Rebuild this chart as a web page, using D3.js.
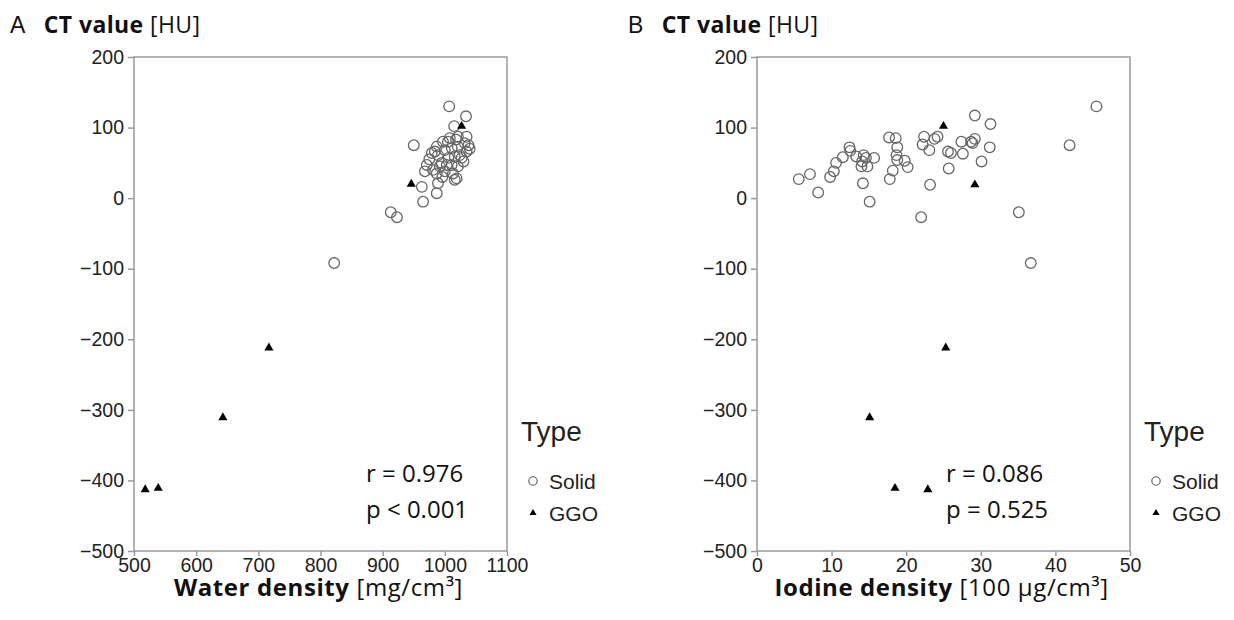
<!DOCTYPE html>
<html lang="en">
<head>
    <meta charset="UTF-8">
    <title>CT value vs water / iodine density</title>
    <script src="https://cdn.jsdelivr.net/npm/d3@7"></script>
    <style>
        body { margin: 0; background: #fff; }
        .ttl { font-family: "Open Sans", Lato, sans-serif; fill: #111; }
        .leg { font-family: "Liberation Sans", Arial, sans-serif; fill: #222; }
    </style>
</head>
<body>
    <svg id="chart" width="1234" height="620"></svg>
    <script>
        // CT value ticks (shared by both panels)
        const ctTicks = [-500, -400, -300, -200, -100, 0, 100, 200]
        const waterTicks = [500, 600, 700, 800, 900, 1000, 1100]
        const iodineTicks = [0, 10, 20, 30, 40, 50]

        // panel A: water density [mg/cm3] vs CT value [HU]
        const waterSolid = [1007, 1034, 1015, 950, 822, 913, 923, 987, 997, 1008, 1021, 1035, 1038, 1035, 979, 989,
            1000, 1011, 1021, 1006, 1016, 1027, 995, 1011, 1021, 971, 968, 981, 987, 1000, 1013, 1016, 989, 963, 987,
            965, 1032, 1024, 1019, 1003, 992, 984, 1030, 1005, 1018, 975, 1040, 996]
        const ctSolidA = [130, 116, 102, 75, -92, -20, -27, 73, 80, 85, 87, 87, 75, 66, 64, 61,
            68, 71, 73, 57, 59, 57, 50, 47, 45, 47, 38, 40, 35, 38, 35, 26, 21, 16, 7,
            -5, 78, 61, 28, 47, 45, 66, 52, 80, 83, 55, 70, 30]
        const waterGGO = [518, 539, 643, 717, 946, 1027]
        const ctGGOA = [-413, -411, -311, -212, 20, 102]

        // panel B: iodine density [100 ug/cm3] vs CT value [HU]
        const iodineSolid = [5.6, 7.1, 8.2, 9.8, 10.3, 10.6, 11.5, 12.4, 12.5, 13.3, 14.3, 14.1, 14.0, 14.8, 14.6, 15.7,
            14.2, 15.1, 17.7, 18.6, 18.8, 18.7, 18.8, 19.8, 20.2, 18.2, 17.8, 22.0, 22.4, 22.2, 23.1, 23.8, 24.2,
            23.2, 25.6, 26.0, 25.7, 27.4, 27.6, 28.7, 29.2, 28.9, 29.2, 31.3, 31.2, 30.1, 41.9, 35.1, 36.7, 45.5]
        const ctSolidB = [27, 34, 8, 30, 38, 50, 58, 72, 67, 59, 61, 52, 45, 45, 57, 57,
            21, -5, 86, 85, 72, 61, 54, 53, 44, 39, 27, -27, 87, 76, 68, 84, 87,
            19, 66, 64, 42, 80, 63, 80, 84, 78, 117, 105, 72, 52, 75, -20, -92, 130]
        const iodineGGO = [25.0, 29.2, 25.3, 15.1, 18.5, 22.9]
        const ctGGOB = [102, 19, -212, -311, -411, -413]

        const legendTypes = ["Solid", "GGO"]

        const svg = d3.select("#chart")
        const plotTop = 57, plotBottom = 551

        const y = d3.scaleLinear().domain([-500, 200]).range([plotBottom, plotTop])

        function drawPanel(p) {
            const x = d3.scaleLinear().domain(p.xDomain).range([p.left, p.right])
            const g = svg.append("g")

            // frame
            g.append("rect")
                .attr("x", p.left).attr("y", plotTop)
                .attr("width", p.right - p.left).attr("height", plotBottom - plotTop)
                .attr("fill", "none").attr("stroke", "#9a9a9a").attr("stroke-width", 1.5)

            const yAxis = g.append("g").attr("transform", `translate(${p.left},0)`)
                .call(d3.axisLeft(y).tickValues(ctTicks).tickSize(6).tickPadding(4)
                    .tickFormat(d => d < 0 ? "\u2212" + Math.abs(d) : d))
            const xAxis = g.append("g").attr("transform", `translate(0,${plotBottom})`)
                .call(d3.axisBottom(x).tickValues(p.xTicks).tickSize(5).tickPadding(2)
                    .tickFormat(d3.format("d")))
            for (const a of [yAxis, xAxis]) {
                a.attr("font-family", "'Liberation Sans', Arial, sans-serif").attr("font-size", 19.5)
                a.select(".domain").remove()
                a.selectAll("line").attr("stroke", "#9a9a9a").attr("stroke-width", 1.5)
                a.selectAll("text").attr("fill", "#222")
            }

            // solid = open circles
            g.append("g").selectAll("circle")
                .data(d3.zip(p.solidX, p.solidY))
                .join("circle")
                .attr("cx", d => x(d[0])).attr("cy", d => y(d[1]))
                .attr("r", 5.3)
                .attr("fill", "none").attr("stroke", "#666").attr("stroke-width", 1.3)

            // GGO = filled triangles
            const tri = d3.symbol().type(d3.symbolTriangle).size(36)
            g.append("g").selectAll("path")
                .data(d3.zip(p.ggoX, p.ggoY))
                .join("path")
                .attr("transform", d => `translate(${x(d[0])},${y(d[1])})`)
                .attr("d", tri).attr("fill", "#000")

            // panel letter + y title
            const t = g.append("text").attr("class", "ttl").attr("x", p.letterX).attr("y", 33)
                .style("font-size", "23px").style("letter-spacing", "0.4px")
            t.append("tspan").text(p.letter).style("font-family", "'Liberation Sans', Arial, sans-serif")
            t.append("tspan").attr("dx", 18).style("font-weight", "bold").text("CT value")
            t.append("tspan").text(" [HU]")

            // x title
            const xt = g.append("text").attr("class", "ttl")
                .attr("x", (p.left + p.right) / 2 - 2).attr("y", 596)
                .attr("text-anchor", "middle").style("font-size", "24px").style("letter-spacing", "0.6px")
            xt.append("tspan").style("font-weight", "bold").text(p.xTitle)
            xt.append("tspan").text(p.xUnit)

            // stats
            g.append("text").attr("class", "ttl").attr("x", p.statX).attr("y", 482)
                .style("font-size", "24px").text(p.r)
            g.append("text").attr("class", "ttl").attr("x", p.statX).attr("y", 518)
                .style("font-size", "24px").text(p.p)

            // legend
            const lg = g.append("g").attr("transform", `translate(${p.right + 14},0)`)
            lg.append("text").attr("class", "leg").attr("x", 0).attr("y", 441)
                .style("font-size", "28px").text("Type")
            legendTypes.forEach((name, i) => {
                const cy = 481 + i * 32
                if (name === "Solid") {
                    lg.append("circle").attr("cx", 12).attr("cy", cy).attr("r", 4.2)
                        .attr("fill", "none").attr("stroke", "#555").attr("stroke-width", 1.1)
                } else {
                    lg.append("path").attr("transform", `translate(12,${cy})`)
                        .attr("d", d3.symbol().type(d3.symbolTriangle).size(22)).attr("fill", "#000")
                }
                lg.append("text").attr("class", "leg").attr("x", 28).attr("y", cy + 8)
                    .style("font-size", "21px").text(name)
            })
        }

        drawPanel({
            left: 134, right: 507, xDomain: [500, 1100], xTicks: waterTicks,
            solidX: waterSolid, solidY: ctSolidA, ggoX: waterGGO, ggoY: ctGGOA,
            letter: "A", letterX: 10, xTitle: "Water density", xUnit: " [mg/cm\u00b3]",
            statX: 366, r: "r = 0.976", p: "p < 0.001"
        })
        drawPanel({
            left: 757, right: 1130, xDomain: [0, 50], xTicks: iodineTicks,
            solidX: iodineSolid, solidY: ctSolidB, ggoX: iodineGGO, ggoY: ctGGOB,
            letter: "B", letterX: 628, xTitle: "Iodine density", xUnit: " [100 \u03bcg/cm\u00b3]",
            statX: 946, r: "r = 0.086", p: "p = 0.525"
        })
    </script>
</body>
</html>
